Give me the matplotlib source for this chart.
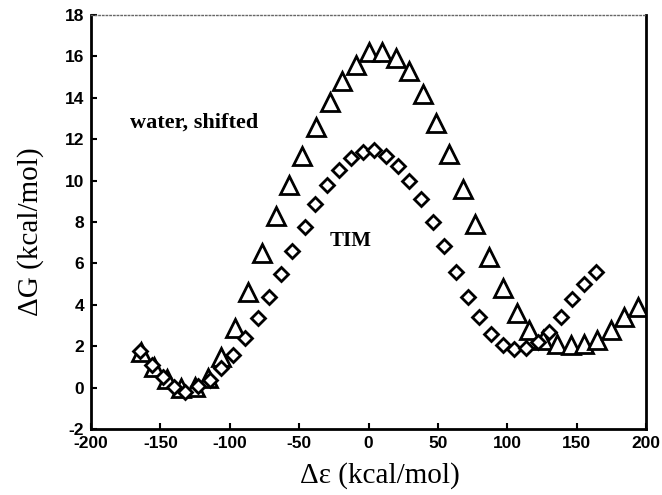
import matplotlib
matplotlib.use("Agg")
import matplotlib.pyplot as plt

plt.rcParams["axes.unicode_minus"] = False

# water, shifted (triangles)
water_x = [-164, -154.5, -145, -135, -125, -116, -106, -96, -87, -77, -67, -57, -48,
           -38, -28, -19, -9, 0, 10, 20, 29, 39, 49, 58, 68, 77, 87, 97, 107, 116,
           126, 136, 146, 155, 165, 175, 184, 194]
water_g = [1.7, 1.0, 0.4, 0.0, 0.05, 0.45, 1.5, 2.9, 4.6, 6.5, 8.3, 9.8, 11.2,
           12.6, 13.8, 14.8, 15.6, 16.2, 16.2, 15.9, 15.3, 14.2, 12.8, 11.3, 9.6, 7.9,
           6.3, 4.8, 3.6, 2.8, 2.3, 2.1, 2.05, 2.1, 2.3, 2.8, 3.4, 3.9]

# TIM (diamonds)
tim_x = [-165, -156, -148, -140, -132, -123, -114, -106, -98, -89, -80, -72, -63,
         -55, -46, -38.6, -30, -21, -12.6, -4, 4, 12.6, 21, 29, 38, 46.5, 54.4, 63,
         71.7, 79.6, 88.3, 97, 105, 113.5, 122, 130, 138.7, 147, 155, 164]
tim_g = [1.75, 1.1, 0.5, 0.05, -0.2, 0.1, 0.37, 0.95, 1.58, 2.4, 3.35, 4.4, 5.5,
         6.6, 7.75, 8.86, 9.8, 10.5, 11.1, 11.4, 11.5, 11.2, 10.7, 10.0, 9.1, 8.0,
         6.85, 5.6, 4.4, 3.4, 2.6, 2.06, 1.86, 1.9, 2.2, 2.7, 3.4, 4.3, 5.0, 5.6]

x_ticks = [-200, -150, -100, -50, 0, 50, 100, 150, 200]
y_ticks = [-2, 0, 2, 4, 6, 8, 10, 12, 14, 16, 18]

fig = plt.figure(figsize=(6.62, 4.95), dpi=100)
ax = fig.add_axes([0.1375, 0.1333, 0.8383, 0.8364])

ax.plot(water_x, water_g, linestyle="none", marker="^", markersize=13,
        markerfacecolor="white", markeredgecolor="black", markeredgewidth=2)
ax.plot(tim_x, tim_g, linestyle="none", marker="D", markersize=7.5,
        markerfacecolor="white", markeredgecolor="black", markeredgewidth=2)

ax.set_xlim(-200, 200)
ax.set_ylim(-2, 18)
ax.set_xticks(x_ticks)
ax.set_yticks(y_ticks)
ax.tick_params(direction="in", length=4, width=1.5, top=False, right=False, pad=5)
for lab in ax.get_xticklabels() + ax.get_yticklabels():
    lab.set_fontfamily("Liberation Sans")
    lab.set_fontweight("heavy")
    lab.set_fontsize(12.5)

for side in ["left", "bottom", "right"]:
    ax.spines[side].set_linewidth(2)
ax.spines["top"].set_linewidth(1)
ax.spines["top"].set_linestyle(":")
ax.spines["top"].set_color("0.4")

ax.set_xlabel("Δε (kcal/mol)", fontfamily="Liberation Serif", fontsize=21)
ax.set_ylabel("ΔG (kcal/mol)", fontfamily="Liberation Serif", fontsize=21)
ax.xaxis.set_label_coords(0.52, -0.08)
ax.yaxis.set_label_coords(-0.085, 0.476)

ax.text(-172, 12.8, "water, shifted", fontfamily="Liberation Serif",
        fontweight="bold", fontsize=16, va="center", ha="left")
ax.text(-28, 7.1, "TIM", fontfamily="Liberation Serif",
        fontweight="bold", fontsize=15, va="center", ha="left")

fig.savefig("out.png", dpi=100)
